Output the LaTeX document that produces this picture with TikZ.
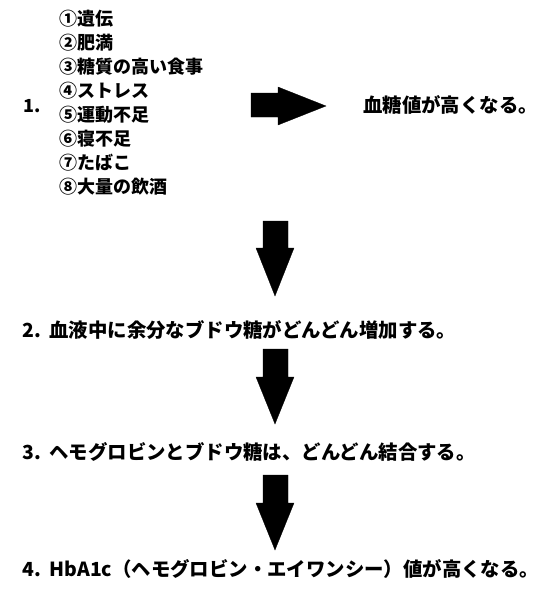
\documentclass[tikz,border=0pt]{standalone}
\usepackage{fontspec}
\IfFontExistsTF{Noto Sans CJK JP Black}
  {\setmainfont{Noto Sans CJK JP}[BoldFont={Noto Sans CJK JP Black}]}
  {\setmainfont{Noto Sans CJK JP}[BoldFeatures={FakeBold=1.2}]}
\begin{document}
\begin{tikzpicture}[x=1pt,y=-1pt,
  txt/.style={font=\fontsize{18}{24}\selectfont\bfseries, inner sep=0pt, anchor=west},
  big/.style={txt, font=\fontsize{19.4}{24}\selectfont\bfseries},
  blockarrow/.style={fill=black, draw=black, line width=0.3pt}]
\useasboundingbox (0,0) rectangle (555,595);
% step 1
\node[txt] (n1) at (23,106) {1.};
\node[txt, anchor=north west, align=left] (list) at (59,9.5) {①遺伝\\②肥満\\③糖質の高い食事\\④ストレス\\⑤運動不足\\⑥寝不足\\⑦たばこ\\⑧大量の飲酒};
\node[big] (r1) at (363,105) {血糖値が高くなる。};
\draw[blockarrow] (251,93) -- (278,93) -- (278,87) -- (326,106) -- (278,125) -- (278,117) -- (251,117) -- cycle;
% down arrows
\draw[blockarrow] (263,221) -- (288,221) -- (288,248) -- (294,248) -- (275,296) -- (256,248) -- (263,248) -- cycle;
\node[big] (n2) at (22,330) {2.\hspace{0.45em}血液中に余分なブドウ糖がどんどん増加する。};
\draw[blockarrow] (263,349) -- (288,349) -- (288,377) -- (294,377) -- (275,424) -- (256,377) -- (263,377) -- cycle;
\node[big] (n3) at (22,452) {3.\hspace{0.45em}ヘモグロビンとブドウ糖は、どんどん結合する。};
\draw[blockarrow] (263,475) -- (288,475) -- (288,503) -- (294,503) -- (275,550) -- (256,503) -- (263,503) -- cycle;
\node[big] (n4) at (22,569) {4.\hspace{0.45em}HbA1c（ヘモグロビン・エイワンシー）値が高くなる。};
\end{tikzpicture}
\end{document}
